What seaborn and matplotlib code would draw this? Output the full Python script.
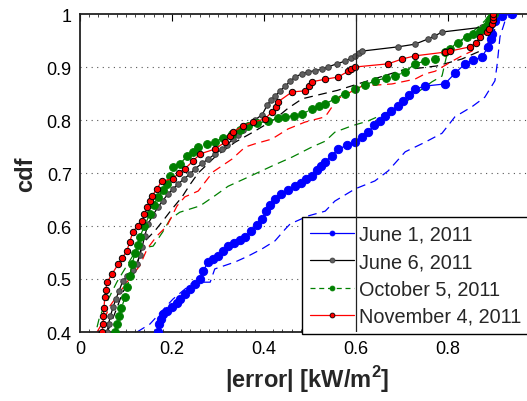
import matplotlib
matplotlib.use("Agg")
import matplotlib.pyplot as plt
from matplotlib.lines import Line2D
from matplotlib.ticker import FormatStrFormatter, MultipleLocator
import numpy as np
import pandas as pd
import seaborn as sns

# Empirical CDFs of absolute forecast error, one pair of curves per day
labels = ["June 1, 2011", "June 6, 2011", "October 5, 2011", "November 4, 2011"]

# June 1 - measured-point CDF
jun1_x = [0.170, 0.172, 0.176, 0.180, 0.190, 0.200, 0.210, 0.217, 0.228, 0.240, 0.250, 0.261,
          0.268, 0.278, 0.290, 0.300, 0.311, 0.322, 0.335, 0.348, 0.359, 0.372, 0.385, 0.396,
          0.405, 0.414, 0.424, 0.438, 0.452, 0.467, 0.480, 0.492, 0.504, 0.515, 0.524, 0.533,
          0.547, 0.561, 0.580, 0.598, 0.612, 0.626, 0.640, 0.652, 0.663, 0.677, 0.691, 0.703,
          0.716, 0.728, 0.750, 0.793, 0.815, 0.837, 0.855, 0.874, 0.887, 0.893, 0.896, 0.902,
          0.917, 0.939]
jun1_y = [0.400, 0.415, 0.425, 0.434, 0.440, 0.447, 0.455, 0.462, 0.472, 0.482, 0.491, 0.500,
          0.515, 0.532, 0.538, 0.543, 0.552, 0.562, 0.568, 0.574, 0.579, 0.590, 0.602, 0.613,
          0.628, 0.640, 0.651, 0.660, 0.668, 0.675, 0.682, 0.688, 0.694, 0.705, 0.713, 0.721,
          0.733, 0.745, 0.752, 0.758, 0.767, 0.777, 0.790, 0.799, 0.808, 0.817, 0.826, 0.836,
          0.848, 0.858, 0.864, 0.868, 0.888, 0.906, 0.913, 0.919, 0.938, 0.952, 0.962, 0.987,
          0.996, 1.000]
# June 1 - model CDF
jun1_model_x = [0.124, 0.152, 0.202, 0.246, 0.283, 0.293, 0.337, 0.365, 0.396, 0.424, 0.446,
                0.457, 0.496, 0.533, 0.554, 0.598, 0.641, 0.670, 0.707, 0.750, 0.787, 0.815,
                0.852, 0.880, 0.902, 0.907, 0.913, 0.924, 0.939]
jun1_model_y = [0.400, 0.415, 0.462, 0.494, 0.494, 0.519, 0.532, 0.543, 0.557, 0.572, 0.594,
                0.604, 0.619, 0.628, 0.647, 0.670, 0.685, 0.704, 0.740, 0.758, 0.775, 0.806,
                0.825, 0.843, 0.874, 0.906, 0.957, 0.987, 1.000]

# June 6
jun6_x = [0.059, 0.062, 0.066, 0.072, 0.078, 0.085, 0.093, 0.103, 0.115, 0.124, 0.130, 0.135,
          0.141, 0.148, 0.158, 0.170, 0.180, 0.191, 0.202, 0.213, 0.226, 0.239, 0.250, 0.265,
          0.278, 0.294, 0.309, 0.320, 0.333, 0.343, 0.355, 0.365, 0.380, 0.396, 0.407, 0.415,
          0.424, 0.435, 0.446, 0.457, 0.467, 0.482, 0.496, 0.511, 0.526, 0.539, 0.558, 0.576,
          0.590, 0.598, 0.606, 0.613, 0.691, 0.728, 0.757, 0.770, 0.787, 0.874, 0.887, 0.893,
          0.896]
jun6_y = [0.400, 0.415, 0.430, 0.447, 0.462, 0.478, 0.496, 0.506, 0.517, 0.528, 0.545, 0.560,
          0.582, 0.604, 0.620, 0.636, 0.648, 0.660, 0.670, 0.679, 0.689, 0.698, 0.708, 0.718,
          0.726, 0.736, 0.745, 0.753, 0.765, 0.772, 0.781, 0.789, 0.800, 0.810, 0.828, 0.838,
          0.845, 0.855, 0.864, 0.873, 0.881, 0.887, 0.891, 0.893, 0.896, 0.900, 0.906, 0.911,
          0.917, 0.921, 0.926, 0.930, 0.938, 0.943, 0.953, 0.958, 0.966, 0.975, 0.985, 0.992,
          1.000]
jun6_model_x = [0.059, 0.065, 0.080, 0.093, 0.115, 0.128, 0.135, 0.163, 0.185, 0.200, 0.222,
                0.239, 0.257, 0.293, 0.337, 0.380, 0.424, 0.452, 0.483, 0.526, 0.560, 0.604,
                0.678, 0.700, 0.776, 0.830, 0.880, 0.900, 0.907, 0.917]
jun6_model_y = [0.400, 0.411, 0.445, 0.475, 0.506, 0.540, 0.566, 0.591, 0.615, 0.632, 0.655,
                0.678, 0.700, 0.730, 0.758, 0.779, 0.802, 0.822, 0.840, 0.849, 0.856, 0.868,
                0.888, 0.894, 0.902, 0.915, 0.934, 0.966, 0.987, 1.000]

# October 5
oct5_x = [0.076, 0.080, 0.085, 0.090, 0.098, 0.103, 0.108, 0.113, 0.120, 0.125, 0.130, 0.140,
          0.152, 0.160, 0.170, 0.180, 0.189, 0.195, 0.202, 0.217, 0.233, 0.246, 0.257, 0.275,
          0.293, 0.310, 0.330, 0.348, 0.365, 0.385, 0.409, 0.430, 0.446, 0.465, 0.483, 0.504,
          0.520, 0.533, 0.554, 0.575, 0.598, 0.620, 0.641, 0.665, 0.685, 0.707, 0.728, 0.750,
          0.772, 0.793, 0.804, 0.822, 0.841, 0.855, 0.870, 0.880, 0.887, 0.892, 0.896, 0.900]
oct5_y = [0.400, 0.415, 0.430, 0.445, 0.466, 0.485, 0.505, 0.528, 0.550, 0.565, 0.579, 0.600,
          0.623, 0.640, 0.655, 0.668, 0.679, 0.695, 0.711, 0.717, 0.732, 0.740, 0.749, 0.755,
          0.758, 0.766, 0.774, 0.782, 0.789, 0.794, 0.798, 0.803, 0.806, 0.808, 0.811, 0.821,
          0.826, 0.830, 0.840, 0.849, 0.858, 0.866, 0.874, 0.879, 0.883, 0.891, 0.906, 0.911,
          0.915, 0.928, 0.934, 0.945, 0.957, 0.962, 0.968, 0.975, 0.981, 0.990, 0.996, 1.000]
oct5_model_x = [0.037, 0.043, 0.080, 0.124, 0.159, 0.180, 0.196, 0.217, 0.261, 0.293, 0.322,
                0.365, 0.417, 0.461, 0.504, 0.533, 0.554, 0.591, 0.626, 0.670, 0.700, 0.722,
                0.743, 0.765, 0.787, 0.798, 0.815, 0.848, 0.880, 0.891]
oct5_model_y = [0.409, 0.430, 0.494, 0.557, 0.562, 0.589, 0.613, 0.626, 0.638, 0.657, 0.675,
                0.692, 0.713, 0.730, 0.749, 0.760, 0.777, 0.789, 0.798, 0.815, 0.826, 0.845,
                0.858, 0.872, 0.883, 0.925, 0.943, 0.962, 0.987, 1.000]

# November 4
nov4_x = [0.048, 0.050, 0.051, 0.052, 0.054, 0.056, 0.059, 0.070, 0.083, 0.092, 0.102, 0.108,
          0.115, 0.125, 0.135, 0.140, 0.146, 0.152, 0.157, 0.167, 0.178, 0.202, 0.215, 0.228,
          0.245, 0.261, 0.293, 0.315, 0.325, 0.333, 0.354, 0.376, 0.402, 0.417, 0.425, 0.430,
          0.461, 0.489, 0.498, 0.504, 0.533, 0.561, 0.583, 0.590, 0.598, 0.670, 0.700, 0.728,
          0.793, 0.804, 0.848, 0.860, 0.870, 0.885, 0.890, 0.896, 0.897, 0.898, 0.898]
nov4_y = [0.400, 0.415, 0.430, 0.445, 0.466, 0.480, 0.494, 0.510, 0.528, 0.540, 0.553, 0.570,
          0.589, 0.600, 0.609, 0.622, 0.636, 0.648, 0.657, 0.670, 0.685, 0.689, 0.700, 0.708,
          0.722, 0.736, 0.745, 0.758, 0.770, 0.777, 0.789, 0.796, 0.802, 0.815, 0.825, 0.834,
          0.853, 0.855, 0.865, 0.872, 0.877, 0.881, 0.892, 0.896, 0.900, 0.906, 0.915, 0.921,
          0.928, 0.930, 0.938, 0.945, 0.957, 0.966, 0.972, 0.981, 0.988, 0.995, 1.000]
nov4_model_x = [0.037, 0.050, 0.065, 0.102, 0.130, 0.146, 0.167, 0.189, 0.211, 0.228, 0.257,
                0.289, 0.330, 0.359, 0.380, 0.417, 0.452, 0.489, 0.533, 0.560, 0.613, 0.678,
                0.728, 0.750, 0.772, 0.809, 0.830, 0.852, 0.865, 0.876, 0.885, 0.891]
nov4_model_y = [0.400, 0.419, 0.449, 0.494, 0.525, 0.557, 0.581, 0.600, 0.638, 0.655, 0.666,
                0.702, 0.726, 0.749, 0.755, 0.764, 0.783, 0.796, 0.806, 0.840, 0.864, 0.868,
                0.877, 0.887, 0.892, 0.911, 0.921, 0.930, 0.949, 0.968, 0.987, 1.000]

colors = ["#0000ff", "#000000", "#008000", "#ff0000"]
marker_face = ["#0000ff", "#606060", "#008000", "#ff0000"]
marker_edge = ["#0000ff", "#404040", "#008000", "#000000"]
marker_size = [6.0, 4.0, 5.6, 4.6]
measured_style = ["-", "-", (0, (7, 4.5)), "-"]
model_dash = (0, (7, 4.5))

measured = [(jun1_x, jun1_y), (jun6_x, jun6_y), (oct5_x, oct5_y), (nov4_x, nov4_y)]
modelled = [(jun1_model_x, jun1_model_y), (jun6_model_x, jun6_model_y),
            (oct5_model_x, oct5_model_y), (nov4_model_x, nov4_model_y)]

sns.set_theme(style="white")
plt.rcParams["font.family"] = ["Liberation Sans", "DejaVu Sans"]
plt.rcParams["mathtext.fontset"] = "custom"
plt.rcParams["mathtext.rm"] = "Liberation Sans:bold"
plt.rcParams["mathtext.bf"] = "Liberation Sans:bold"

W, H = 527, 402
fig = plt.figure(figsize=(W / 100, H / 100), dpi=100)
fig.patch.set_facecolor("white")
# axes span x = 0..1; the right part runs past the figure edge
ax = fig.add_axes([80 / W, (H - 333) / H, 460 / W, 318 / H])
ax.set_facecolor("white")

for i in range(4):
    mx, my = measured[i]
    dx, dy = modelled[i]
    df_meas = pd.DataFrame({"error": mx, "cdf": my})
    df_mod = pd.DataFrame({"error": dx, "cdf": dy})
    sns.lineplot(data=df_meas, x="error", y="cdf", ax=ax, sort=False, estimator=None,
                 color=colors[i], linewidth=0.9, linestyle=measured_style[i],
                 marker="o", markersize=marker_size[i],
                 markerfacecolor=marker_face[i], markeredgecolor=marker_edge[i],
                 markeredgewidth=0.7, zorder=3)
    sns.lineplot(data=df_mod, x="error", y="cdf", ax=ax, sort=False, estimator=None,
                 color=colors[i], linewidth=0.9, linestyle=model_dash, zorder=2)

ax.set_xlim(0, 1)
ax.set_ylim(0.4, 1.0)
ax.set_xticks([0, 0.2, 0.4, 0.6, 0.8])
ax.set_yticks([0.4, 0.5, 0.6, 0.7, 0.8, 0.9, 1.0])
ax.xaxis.set_minor_locator(MultipleLocator(0.02))
ax.xaxis.set_major_formatter(FormatStrFormatter("%g"))
ax.yaxis.set_major_formatter(FormatStrFormatter("%g"))
ax.tick_params(axis="both", which="major", direction="in", length=5, width=0.8,
               labelsize=13, pad=6, color="black", labelcolor="black",
               top=True, right=True)
ax.tick_params(axis="x", which="minor", direction="in", length=2.5, width=0.6,
               top=True, bottom=True)

for y in [0.5, 0.6, 0.7, 0.8, 0.9]:
    ax.axhline(y, color="#555555", linewidth=0.8, linestyle=(0, (1, 4)), zorder=1)

for side in ["left", "bottom", "top", "right"]:
    ax.spines[side].set_color("#222222")
    ax.spines[side].set_linewidth(1.3)

ax.set_xlabel(r"|error| [kW/m$^{\mathbf{2}}$]", fontsize=17, fontweight="bold")
ax.set_ylabel("cdf", fontsize=17, fontweight="bold")
ax.xaxis.set_label_coords(0.493, (333 - 380) / 318)
ax.xaxis.label.set_va("center")
ax.yaxis.set_label_coords((26 - 80) / 460, 0.5)
ax.yaxis.label.set_va("center")

handles = []
for i in range(4):
    handles.append(Line2D([], [], color=colors[i], linewidth=0.9,
                          linestyle=measured_style[i] if i != 2 else (0, (4, 3)),
                          marker="o", markersize=3.5,
                          markerfacecolor=marker_face[i], markeredgecolor=marker_edge[i],
                          markeredgewidth=0.6))
leg = ax.legend(handles, labels, loc="upper left",
                bbox_to_anchor=(302 / W, 1 - 218 / H), bbox_transform=fig.transFigure,
                fontsize=14.3, frameon=True, fancybox=False, framealpha=1,
                edgecolor="black", borderpad=0.4, labelspacing=0.42,
                handlelength=2.2, handletextpad=0.28, borderaxespad=0)
leg.get_frame().set_linewidth(1.0)
leg.set_zorder(5)

# reference threshold drawn above everything, including the legend
ax.axvline(0.6, color="#222222", linewidth=0.9, zorder=6)

fig.savefig("out.png", dpi=100, facecolor="white")
